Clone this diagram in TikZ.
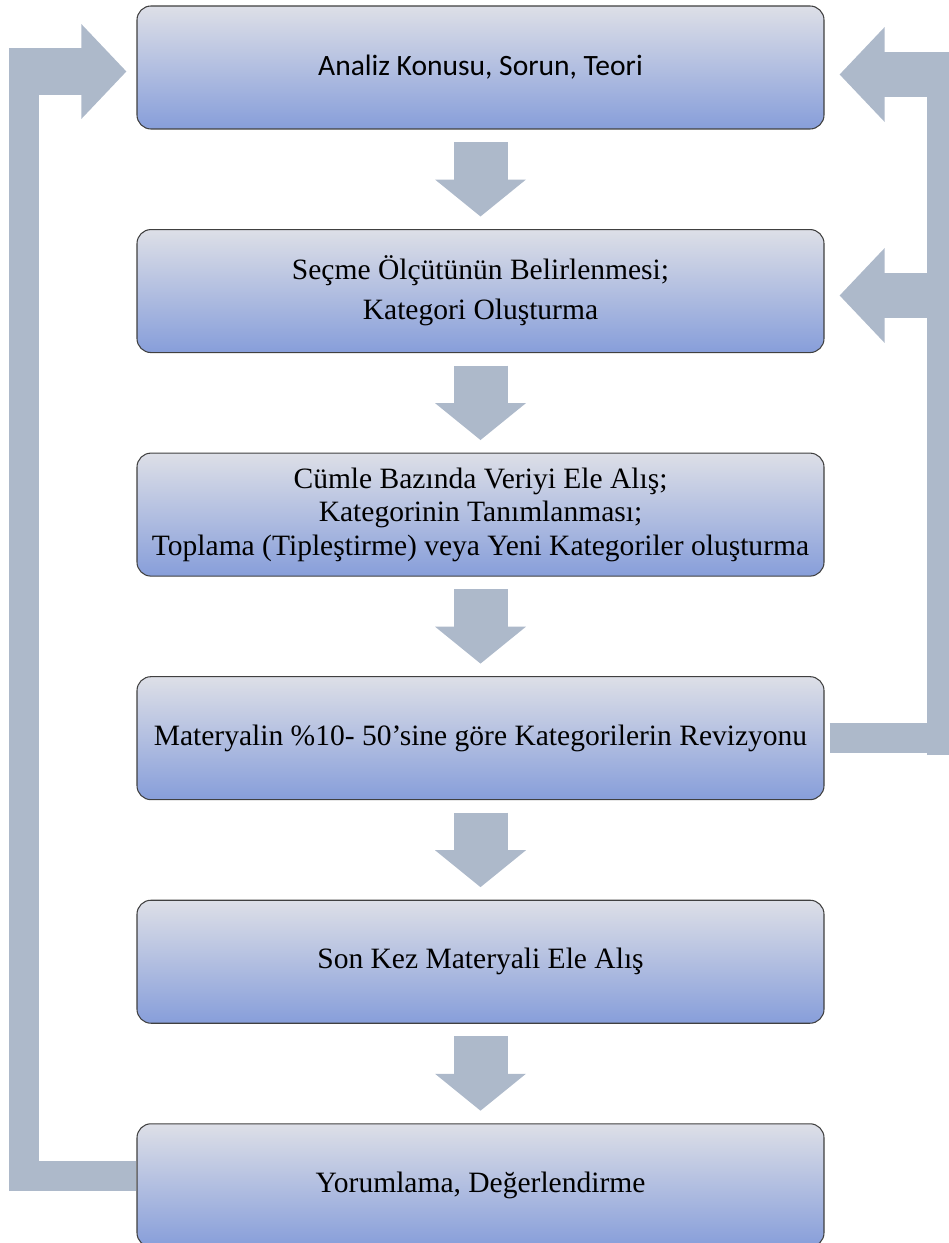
\documentclass[tikz,border=0pt]{standalone}
\usepackage{fontspec}
\setmainfont{Liberation Serif}
\newfontfamily\calibrifont{Carlito}
\usetikzlibrary{arrows.meta,positioning,calc}
\definecolor{boxtop}{RGB}{221,223,231}
\definecolor{boxmid}{RGB}{152,170,220}
\definecolor{boxbot}{RGB}{135,158,218}
\definecolor{arrowgray}{RGB}{173,185,202}
\tikzset{
  stepbox/.style={rectangle, rounded corners=0.28cm, draw=black!75, line width=0.6pt,
    minimum width=13.74cm, minimum height=2.46cm, align=center,
    top color=boxtop, middle color=boxmid, bottom color=boxbot,
    font=\fontsize{16.8pt}{19pt}\selectfont},
  downarrow/.style={draw=arrowgray, line width=1.08cm,
    -{Triangle[length=0.74cm, width=1.78cm]}},
  bar/.style={draw=arrowgray, line width=0.6cm},
  backarrow/.style={draw=arrowgray, line width=#1,
    -{Triangle[length=0.9cm, width=1.84cm]}},
}
\begin{document}
\begin{tikzpicture}[node distance=1.99cm]
\useasboundingbox (0,0) rectangle (18.96,-24.86);

\node[stepbox] (b1) at (9.61,-1.35) {\calibrifont\raisebox{-2pt}{Analiz Konusu, Sorun, Teori}};
\node[stepbox, below=of b1] (b2) {Seçme Ölçütünün Belirlenmesi;\\[3.7pt] Kategori Oluşturma};
\node[stepbox, below=of b2] (b3) {Cümle Bazında Veriyi Ele Alış;\\ Kategorinin Tanımlanması;\\ Toplama (Tipleştirme) veya Yeni Kategoriler oluşturma};
\node[stepbox, below=of b3] (b4) {Materyalin \%10- 50’sine göre Kategorilerin Revizyonu};
\node[stepbox, below=of b4] (b5) {Son Kez Materyali Ele Alış};
\node[stepbox, below=of b5] (b6) {Yorumlama, Değerlendirme};

\draw[downarrow] ([yshift=-0.25cm]b1.south) -- ([yshift=0.25cm]b2.north);
\draw[downarrow] ([yshift=-0.25cm]b2.south) -- ([yshift=0.25cm]b3.north);
\draw[downarrow] ([yshift=-0.25cm]b3.south) -- ([yshift=0.25cm]b4.north);
\draw[downarrow] ([yshift=-0.25cm]b4.south) -- ([yshift=0.25cm]b5.north);
\draw[downarrow] ([yshift=-0.25cm]b5.south) -- ([yshift=0.25cm]b6.north);

% left loop back to the start
\coordinate (lb) at (0.48,-23.52);
\coordinate (lt) at (0.48,-1.43);
\draw[bar] (b6.west |- lb) -- ([xshift=-0.3cm]lb);
\draw[bar] ([yshift=-0.3cm]lb) -- ([yshift=0.47cm]lt);
\draw[backarrow=0.94cm] ([xshift=-0.3cm]lt) -- ($(b1.west |- lt)+(-0.2,0)$);

% right loop from the revision step
\coordinate (rb) at (18.84,-14.76);
\coordinate (rm) at (18.84,-5.91);
\coordinate (rt) at (18.84,-1.49);
\draw[bar] ($(b4.east |- rb)+(0.1,0)$) -- ([xshift=0.3cm]rb);
\draw[bar] ([yshift=-0.34cm]rb) -- ([yshift=0.45cm]rt);
\draw[backarrow=0.9cm] ([xshift=0.3cm]rt) -- ($(b1.east |- rt)+(0.3,0)$);
\draw[backarrow=0.9cm] ([xshift=0.3cm]rm) -- ($(b2.east |- rm)+(0.3,0)$);
\end{tikzpicture}
\end{document}
